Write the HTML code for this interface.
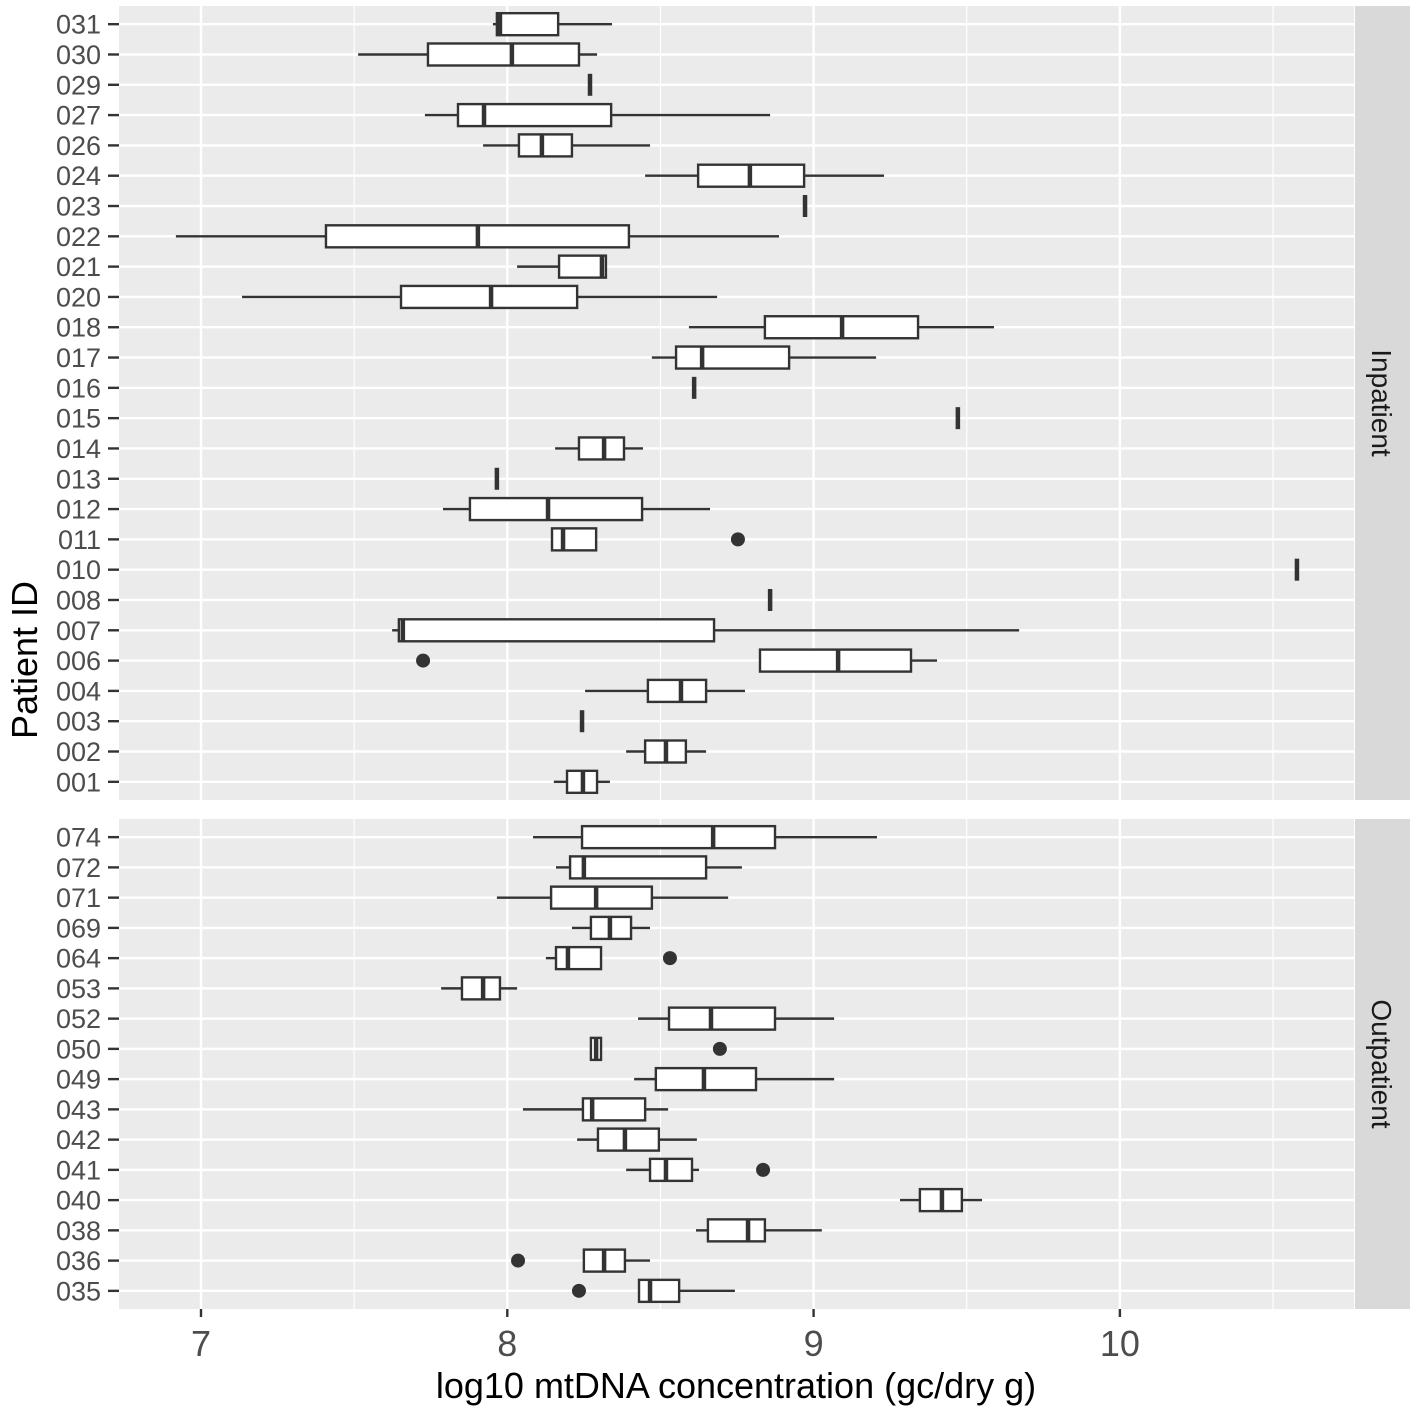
<!DOCTYPE html>
<html><head><meta charset="utf-8"><style>
html,body{margin:0;padding:0;background:#fff}
svg{display:block;font-family:"Liberation Sans",Arial,sans-serif}
</style></head><body>
<svg id="chart" width="1417" height="1417" viewBox="0 0 1417 1417" xmlns="http://www.w3.org/2000/svg"></svg>
<script>
// Data arrays
const inpatientIds = ["031","030","029","027","026","024","023","022","021","020","018","017","016","015","014","013","012","011","010","008","007","006","004","003","002","001"];
const inpatientLow = [7.953,7.513,8.27,7.731,7.921,8.450,8.972,6.918,8.032,7.134,8.593,8.472,8.61,9.471,8.156,7.966,7.790,8.146,10.578,8.858,7.624,8.825,8.254,8.244,8.388,8.152];
const inpatientQ1  = [7.966,7.741,8.27,7.839,8.038,8.623,8.972,7.408,8.169,7.653,8.841,8.551,8.61,9.471,8.234,7.966,7.878,8.146,10.578,8.858,7.646,8.825,8.459,8.244,8.450,8.195];
const inpatientMed = [7.976,8.015,8.27,7.924,8.113,8.792,8.972,7.904,8.309,7.947,9.093,8.636,8.61,9.471,8.316,7.966,8.133,8.182,10.578,8.858,7.659,9.080,8.567,8.244,8.518,8.247];
const inpatientQ3  = [8.166,8.234,8.27,8.339,8.211,8.969,8.972,8.397,8.322,8.228,9.341,8.920,8.61,9.471,8.381,7.966,8.440,8.290,10.578,8.858,8.675,9.318,8.649,8.244,8.583,8.293];
const inpatientHigh= [8.342,8.293,8.27,8.858,8.466,9.230,8.972,8.887,8.325,8.685,9.589,9.204,8.61,9.471,8.443,7.966,8.662,8.290,10.578,8.858,9.671,9.403,8.776,8.244,8.649,8.335];
const inpatientOutliers = [["011",8.753],["006",7.725]];

const outpatientIds = ["074","072","071","069","064","053","052","050","049","043","042","041","040","038","036","035"];
const outpatientLow = [8.084,8.159,7.966,8.211,8.126,7.784,8.427,8.273,8.414,8.051,8.228,8.388,9.282,8.616,8.250,8.430];
const outpatientQ1  = [8.244,8.205,8.143,8.273,8.159,7.852,8.528,8.273,8.485,8.247,8.296,8.466,9.347,8.655,8.250,8.430];
const outpatientMed = [8.672,8.250,8.290,8.335,8.198,7.921,8.665,8.290,8.642,8.277,8.384,8.518,9.419,8.786,8.316,8.466];
const outpatientQ3  = [8.874,8.649,8.472,8.404,8.306,7.976,8.874,8.306,8.812,8.450,8.495,8.603,9.484,8.841,8.384,8.561];
const outpatientHigh= [9.207,8.766,8.721,8.466,8.306,8.032,9.067,8.306,9.067,8.525,8.619,8.626,9.550,9.027,8.466,8.743];
const outpatientOutliers = [["064",8.531],["050",8.694],["041",8.835],["036",8.035],["035",8.234]];

const xTicks = [7,8,9,10];
const xMinor = [7.5,8.5,9.5,10.5];

const NS="http://www.w3.org/2000/svg";
const svg=document.getElementById('chart');
const PL=119, PR=1354;
const xScale=v=>201+(v-7)*306.3;
function mk(tag,attrs,parent){const e=document.createElementNS(NS,tag);for(const k in attrs)e.setAttribute(k,attrs[k]);(parent||svg).appendChild(e);return e;}

function panel(ids,lo,q1,md,q3,hi,outs,top,bottom,label,key){
  const g=mk('g',{});
  
  
  const bg=mk('rect',{x:PL,y:top,width:PR-PL,height:bottom-top,fill:'#ebebeb'},g);
  
  
  const n=ids.length, step=(bottom-top)/(n-1+1.2);
  const yScale=i=>top+step*(0.6+i);
  xMinor.forEach(v=>mk('line',{x1:xScale(v),x2:xScale(v),y1:top,y2:bottom,stroke:'#fff','stroke-width':1.2},g));
  xTicks.forEach(v=>mk('line',{x1:xScale(v),x2:xScale(v),y1:top,y2:bottom,stroke:'#fff','stroke-width':2.4},g));
  ids.forEach((id,i)=>{
    const y=yScale(i);
    mk('line',{x1:PL,x2:PR,y1:y,y2:y,stroke:'#fff','stroke-width':2.4},g);
    const t=mk('text',{x:101,y:y+9.5,'text-anchor':'end','font-size':27,fill:'#4d4d4d'},g);
    t.textContent=id;
    
    
    mk('line',{x1:108,x2:119,y1:y,y2:y,stroke:'#333','stroke-width':2.4},g);
  });
  ids.forEach((id,i)=>{
    const y=yScale(i), h=22;
    const b=mk('g',{},g);
    
    
    mk('line',{x1:xScale(lo[i]),x2:xScale(q1[i]),y1:y,y2:y,stroke:'#333','stroke-width':2.4},b);
    mk('line',{x1:xScale(q3[i]),x2:xScale(hi[i]),y1:y,y2:y,stroke:'#333','stroke-width':2.4},b);
    const x1=xScale(q1[i]), x2=xScale(q3[i]);
    mk('rect',{x:x1,y:y-h/2,width:Math.max(x2-x1,0),height:h,fill:'#fff',stroke:'#333','stroke-width':2.4},b);
    mk('line',{x1:xScale(md[i]),x2:xScale(md[i]),y1:y-h/2,y2:y+h/2,stroke:'#333','stroke-width':4.5},b);
  });
  outs.forEach(o=>{
    const i=ids.indexOf(o[0]);
    const c=mk('circle',{cx:xScale(o[1]),cy:yScale(i),r:7,fill:'#333'},g);
    
    
  });
  const s=mk('rect',{x:1355,y:top,width:55,height:bottom-top,fill:'#d9d9d9'},g);
  
  
  const cy=(top+bottom)/2;
  const st=mk('text',{x:1382,y:cy,'text-anchor':'middle','font-size':28,fill:'#1a1a1a',transform:`rotate(90 1382 ${cy})`,dy:10},g);
  st.textContent=label;
  
  
}
panel(inpatientIds,inpatientLow,inpatientQ1,inpatientMed,inpatientQ3,inpatientHigh,inpatientOutliers,6,800,'Inpatient','inpatient');
panel(outpatientIds,outpatientLow,outpatientQ1,outpatientMed,outpatientQ3,outpatientHigh,outpatientOutliers,819,1309,'Outpatient','outpatient');

xTicks.forEach(v=>{
  mk('line',{x1:xScale(v),x2:xScale(v),y1:1309,y2:1317,stroke:'#333','stroke-width':2.4});
  const t=mk('text',{x:xScale(v),y:1356,'text-anchor':'middle','font-size':36,fill:'#4d4d4d'});
  t.textContent=v;
  
  
});
const xt=mk('text',{x:736,y:1398,'text-anchor':'middle','font-size':36,fill:'#000'});
xt.textContent='log10 mtDNA concentration (gc/dry g)';


const yt=mk('text',{x:37,y:660,'text-anchor':'middle','font-size':36,fill:'#000',transform:'rotate(-90 37 660)'});
yt.textContent='Patient ID';


</script>
</body></html>
